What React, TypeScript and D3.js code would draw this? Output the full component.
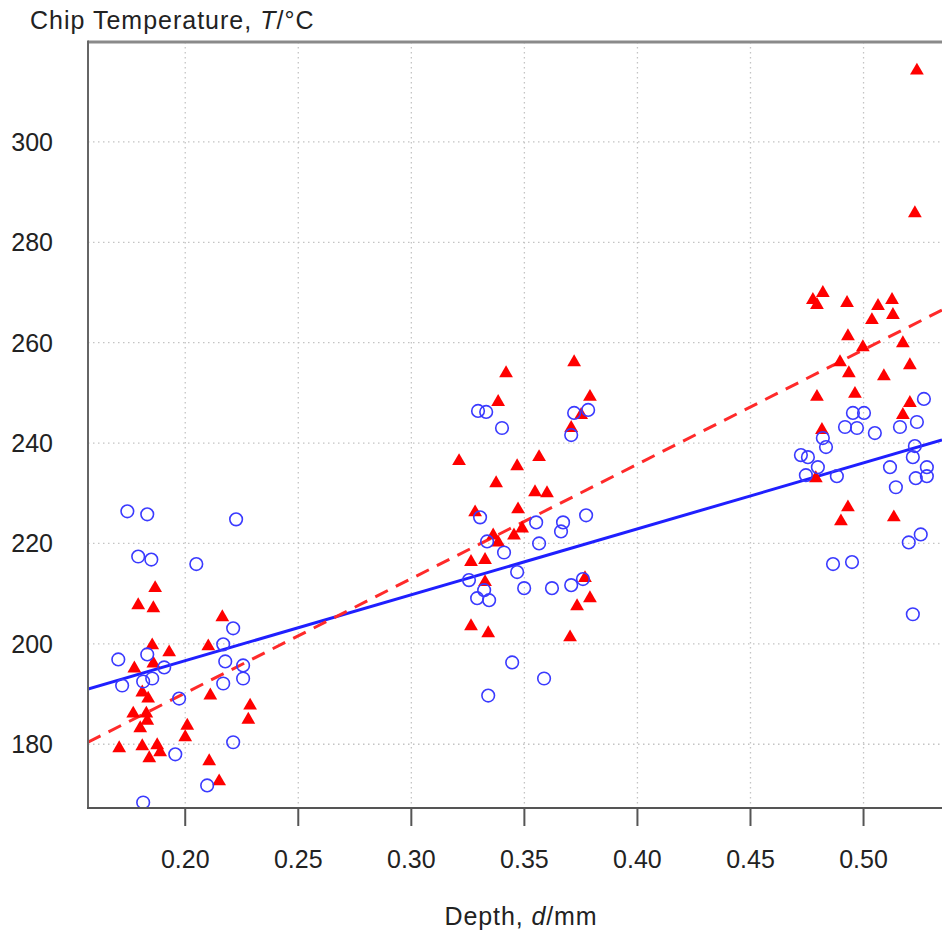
import React from 'react';
import * as d3 from 'd3';

// depth (mm), temperature (°C)
const circleDepth = [
  0.1744, 0.1832, 0.2225, 0.1792, 0.1850, 0.2049, 0.2212, 0.2168, 0.1832, 0.1704, 0.2177, 0.1907,
  0.1854, 0.1814, 0.1721, 0.2168, 0.2256, 0.2256, 0.1973, 0.2212, 0.1956, 0.2097, 0.1814,
  0.3295, 0.3331, 0.3401, 0.3720, 0.3782, 0.3707, 0.3304, 0.3552, 0.3773, 0.3671, 0.3662, 0.3335,
  0.3565, 0.3410, 0.3255, 0.3468, 0.3322, 0.3291, 0.3344, 0.3499, 0.3622, 0.3707, 0.3759, 0.3446,
  0.3587, 0.3340,
  0.5267, 0.4953, 0.5002, 0.4918, 0.4971, 0.5050, 0.5161, 0.5236, 0.4820, 0.4834, 0.4723, 0.4754,
  0.4798, 0.4745, 0.4882, 0.5117, 0.5227, 0.5218, 0.5143, 0.5231, 0.5280, 0.5280, 0.5200, 0.5253,
  0.4865, 0.4949, 0.5218,
];
const circleTemp = [
  226.4, 225.8, 224.8, 217.4, 216.8, 215.9, 203.1, 199.9, 197.9, 196.9, 196.5, 195.3,
  193.1, 192.5, 191.7, 192.1, 193.1, 195.7, 189.1, 180.4, 178.0, 171.8, 168.4,
  246.4, 246.2, 243.0, 246.0, 246.6, 241.6, 225.2, 224.2, 225.6, 224.2, 222.4, 220.4,
  220.0, 218.2, 212.7, 214.3, 210.7, 209.1, 208.7, 211.1, 211.1, 211.7, 212.9, 196.3,
  193.1, 189.7,
  248.8, 246.0, 246.0, 243.2, 243.0, 242.0, 243.2, 244.2, 241.0, 239.2, 237.6, 237.2,
  235.2, 233.6, 233.4, 235.2, 239.4, 237.2, 231.2, 233.0, 235.2, 233.4, 220.2, 221.8,
  215.9, 216.3, 205.9,
];

const triangleDepth = [
  0.1867, 0.1792, 0.1859, 0.2164, 0.1854, 0.1929, 0.2102, 0.1775, 0.1859, 0.1810, 0.1836, 0.2111,
  0.1770, 0.1828, 0.1832, 0.1801, 0.2009, 0.2000, 0.1708, 0.1810, 0.1876, 0.1889, 0.1841, 0.2106,
  0.2150, 0.2287, 0.2279,
  0.3419, 0.3720, 0.3384, 0.3790, 0.3751, 0.3707, 0.3211, 0.3468, 0.3565, 0.3375, 0.3547, 0.3600,
  0.3472, 0.3282, 0.3490, 0.3454, 0.3362, 0.3384, 0.3264, 0.3326, 0.3326, 0.3768, 0.3733, 0.3790,
  0.3264, 0.3340, 0.3702,
  0.4776, 0.4794, 0.4820, 0.4927, 0.5064, 0.5126, 0.5130, 0.5037, 0.4931, 0.4997, 0.5174, 0.5205,
  0.4896, 0.4935, 0.5090, 0.4794, 0.4962, 0.5205, 0.5174, 0.4816, 0.4789, 0.4931, 0.4900, 0.5134,
  0.5236, 0.5227,
];
const triangleTemp = [
  211.1, 207.7, 207.1, 205.3, 199.7, 198.3, 199.5, 195.1, 196.1, 190.3, 189.1, 189.7,
  186.1, 186.1, 184.7, 183.2, 183.7, 181.4, 179.2, 179.6, 179.8, 178.4, 177.2, 176.6,
  172.6, 187.7, 184.9,
  253.9, 256.1, 248.2, 249.2, 245.6, 243.0, 236.4, 235.4, 237.2, 232.0, 230.2, 230.0,
  226.8, 226.2, 223.0, 221.6, 221.6, 220.2, 216.3, 216.7, 212.3, 213.1, 207.5, 209.1,
  203.5, 202.1, 201.3,
  268.5, 267.5, 269.9, 267.9, 267.3, 268.5, 265.5, 264.5, 261.3, 259.1, 259.9, 255.5,
  256.1, 253.9, 253.3, 249.2, 249.8, 248.0, 245.6, 242.6, 233.0, 227.2, 224.4, 225.2,
  314.2, 285.8,
];

// fitted lines, as [depth, temperature] end points
const circleFit = [[0.157, 191.0], [0.5347, 240.6]];
const triangleFit = [[0.157, 180.4], [0.5347, 266.5]];

const xTicks = [0.2, 0.25, 0.3, 0.35, 0.4, 0.45, 0.5];
const yTicks = [180, 200, 220, 240, 260, 280, 300];

const W = 942;
const H = 932;
const left = 88;
const right = 942;
const top = 42;
const bottom = 808;
const font = '"Liberation Sans", Arial, sans-serif';
const fs = 25;

export default function App() {
  const x = d3.scaleLinear().domain([0.157, 0.5347]).range([left, right]);
  const y = d3.scaleLinear().domain([167.3, 319.9]).range([bottom, top]);
  const line = d3.line<number[]>().x(d => x(d[0])).y(d => y(d[1]));
  const tri = d3.symbol().type(d3.symbolTriangle).size(82)();

  return (
    <svg width={W} height={H} style={{ position: 'absolute', left: 0, top: 0, background: '#fff' }}
      fontFamily={font}>
      <defs>
        <clipPath id="plot">
          <rect x={left} y={top} width={right - left} height={bottom - top} />
        </clipPath>
      </defs>
      <rect width={W} height={H} fill="#fff" />

      {/* grid */}
      <g stroke="#c4c4c4" strokeWidth={1.3} strokeDasharray="1.5,3.5">
        {xTicks.map(t => (
          <line key={'gx' + t} x1={x(t)} x2={x(t)} y1={top} y2={bottom} />
        ))}
        {yTicks.map(t => (
          <line key={'gy' + t} x1={left} x2={right} y1={y(t)} y2={y(t)} />
        ))}
      </g>

      <g clipPath="url(#plot)">
        <path d={line(circleFit) || ''} fill="none" stroke="#1f1fff" strokeWidth={3} />
        <path d={line(triangleFit) || ''} fill="none" stroke="#ff2a2a" strokeWidth={3}
          strokeDasharray="14,9" />
        {triangleDepth.map((d, i) => (
          <path key={'t' + i} d={tri || ''} fill="#ff0000"
            transform={`translate(${x(d)},${y(triangleTemp[i])})`} />
        ))}
        {circleDepth.map((d, i) => (
          <circle key={'c' + i} cx={x(d)} cy={y(circleTemp[i])} r={6.3} fill="none"
            stroke="#3a3aff" strokeWidth={1.6} />
        ))}
      </g>

      {/* frame */}
      <line x1={left} x2={right} y1={top} y2={top} stroke="#8a8a8a" strokeWidth={3} />
      <line x1={left} x2={left} y1={top - 1.5} y2={bottom} stroke="#666" strokeWidth={2} />
      <line x1={left - 1} x2={right} y1={bottom} y2={bottom} stroke="#555" strokeWidth={2} />

      {/* x axis */}
      {xTicks.map(t => (
        <g key={'xt' + t}>
          <line x1={x(t)} x2={x(t)} y1={bottom} y2={bottom + 18} stroke="#555" strokeWidth={2} />
          <text x={x(t)} y={bottom + 60} textAnchor="middle" fontSize={fs} fill="#222">
            {d3.format('.2f')(t)}
          </text>
        </g>
      ))}
      <text x={521} y={925} textAnchor="middle" fontSize={fs} fill="#222" letterSpacing={0.9}>
        Depth, <tspan fontStyle="italic">d</tspan>/mm
      </text>

      {/* y axis */}
      {yTicks.map(t => (
        <text key={'yt' + t} x={53} y={y(t)} dy="0.36em" textAnchor="end" fontSize={fs} fill="#222">
          {t}
        </text>
      ))}
      <text x={30} y={29} fontSize={fs} fill="#222" letterSpacing={1}>
        Chip Temperature, <tspan fontStyle="italic">T</tspan>/°C
      </text>
    </svg>
  );
}
